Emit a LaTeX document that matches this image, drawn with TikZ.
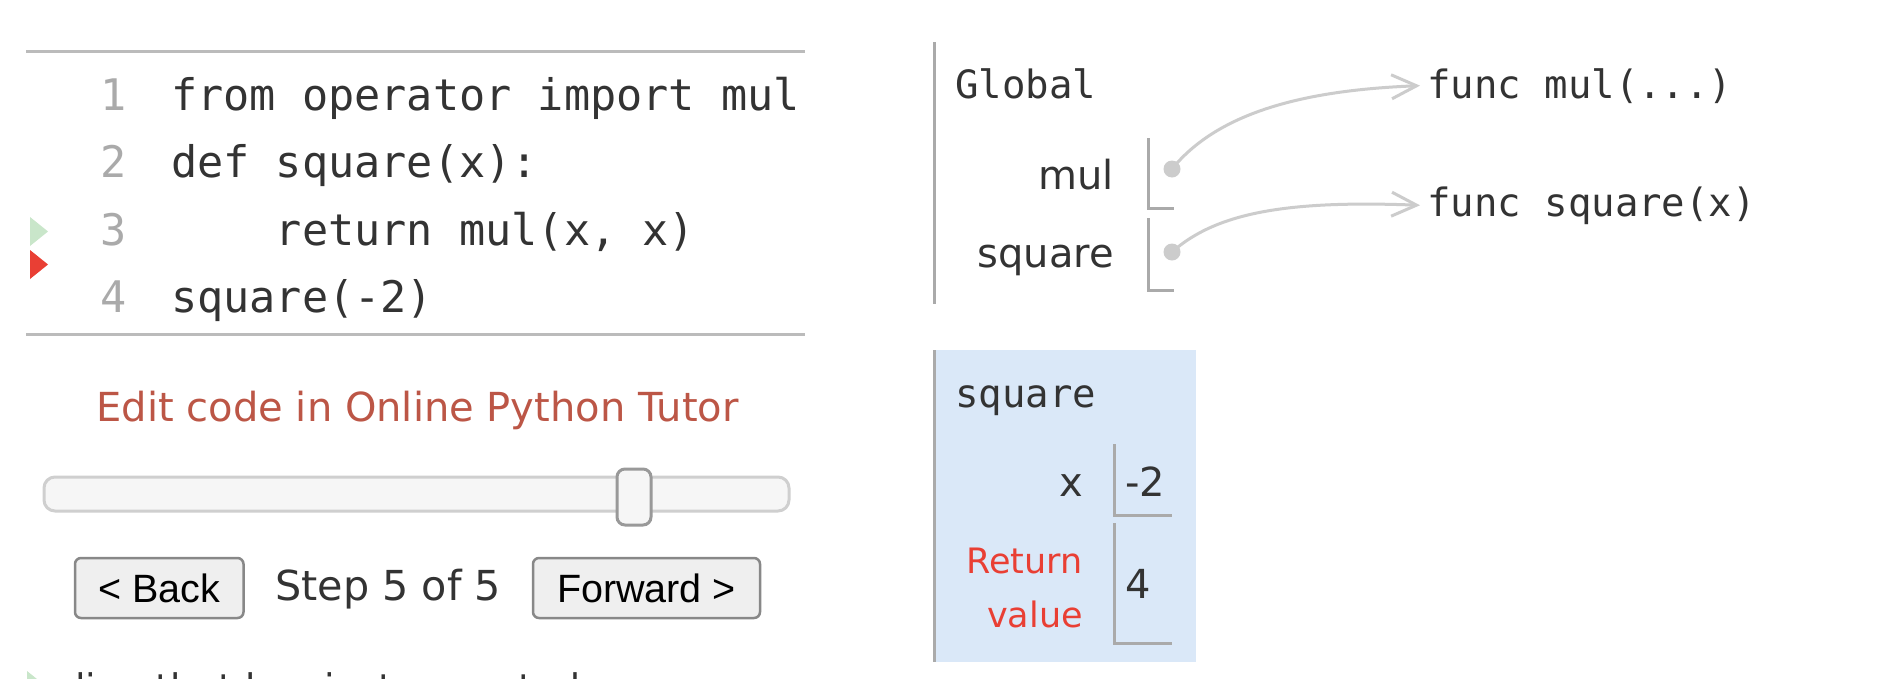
\documentclass[tikz,border=0pt]{standalone}
\usepackage{fontspec}
\setmainfont{DejaVu Sans}
\newfontfamily\codefont{DejaVu Sans Mono}
\newfontfamily\btnfont{Liberation Sans}
\usetikzlibrary{arrows.meta}
\definecolor{txt}{HTML}{333333}
\definecolor{lnum}{HTML}{AAAAAA}
\definecolor{rulegray}{HTML}{BBBBBB}
\definecolor{boxline}{HTML}{AAAAAA}
\definecolor{ptr}{HTML}{CCCCCC}
\definecolor{framebg}{HTML}{DAE8F8}
\definecolor{linkred}{HTML}{BC5646}
\definecolor{retred}{HTML}{E93F34}
\definecolor{curgreen}{HTML}{C9E6CA}
\definecolor{btnfill}{HTML}{EFEFEF}
\definecolor{btnedge}{HTML}{888888}
\definecolor{trackfill}{HTML}{F6F6F6}
\definecolor{trackedge}{HTML}{CFCFCF}
\definecolor{thumbedge}{HTML}{999999}
\tikzset{
  codeline/.style={anchor=base west, inner sep=0pt, font=\codefont\fontsize{43.5}{50}\selectfont, text=txt},
  linenum/.style={anchor=base west, inner sep=0pt, font=\codefont\fontsize{43.5}{50}\selectfont, text=lnum},
  monolabel/.style={anchor=base west, inner sep=0pt, font=\codefont\fontsize{39}{46}\selectfont, text=txt},
  varname/.style={anchor=base east, inner sep=0pt, font=\fontsize{40}{46}\selectfont, text=txt},
  retlabel/.style={anchor=base east, inner sep=0pt, font=\fontsize{35}{42}\selectfont, text=retred},
  valtext/.style={anchor=base west, inner sep=0pt, font=\fontsize{40}{46}\selectfont, text=txt},
  valbox/.style={draw=boxline, line width=3pt},
  ptrdot/.style={circle, fill=ptr, inner sep=0pt, minimum size=17pt},
  ptrarrow/.style={draw=ptr, line width=3pt, -{Straight Barb[length=25pt,width=24pt,line width=3pt]}},
  btnbox/.style={draw=btnedge, fill=btnfill, line width=2.5pt, rounded corners=6pt, inner sep=0pt, font=\btnfont\fontsize{39.5}{46}\selectfont, text=black},
  uitext/.style={inner sep=0pt, font=\fontsize{40}{46}\selectfont},
  coderule/.style={draw=rulegray, line width=3pt},
}
\begin{document}
\begin{tikzpicture}[x=1pt,y=-1pt]
\useasboundingbox (0,0) rectangle (1884,678);
\fill[white] (0,0) rectangle (1884,678);
\clip (0,0) rectangle (1884,678);

% ---- code panel ----
\draw[coderule] (26,51.5) -- (805,51.5);
\draw[coderule] (26,334) -- (805,334);
\node[linenum] (n1) at (100,110) {1};
\node[linenum] (n2) at (100,177.5) {2};
\node[linenum] (n3) at (100,245) {3};
\node[linenum] (n4) at (100,312.5) {4};
\node[codeline] (c1) at (171,110) {from operator import mul};
\node[codeline] (c2) at (171,177.5) {def square(x):};
\node[codeline] (c3) at (171,245) {\hphantom{0000}return mul(x, x)};
\node[codeline] (c4) at (171,312.5) {square(-2)};
\fill[curgreen] (30,217) -- (48,231.5) -- (30,246) -- cycle;
\fill[retred] (30,250) -- (48,264.5) -- (30,279) -- cycle;

% ---- controls ----
\node[uitext, text=linkred, anchor=base] (edit) at (417.5,421) {Edit code in Online Python Tutor};
\draw[draw=trackedge, fill=trackfill, line width=3pt, rounded corners=11pt] (44,477) rectangle (789,511);
\draw[draw=thumbedge, fill=trackfill, line width=3pt, rounded corners=8pt] (617,469) rectangle (651,525);
\node[btnbox, minimum width=168.5pt, minimum height=60pt] (back) at (159.25,588) {< Back};
\node[uitext, text=txt, anchor=base west, font=\fontsize{41.3}{46}\selectfont] (step) at (275,600) {Step 5 of 5};
\node[btnbox, minimum width=227pt, minimum height=60pt] (fwd) at (646.5,588) {Forward >};

% ---- legend (cut off by the picture's edge) ----
\fill[curgreen] (27,671) -- (45,685.5) -- (27,700) -- cycle;
\node[uitext, text=txt, anchor=base west, font=\fontsize{38}{44}\selectfont] (legend) at (75,701) {line that has just executed};

% ---- global frame ----
\draw[boxline, line width=3pt] (934,42) -- (934,304);
\node[monolabel] (glob) at (955,98) {Global};
\node[varname] (vmul) at (1114,189) {mul};
\node[varname] (vsq) at (1114,267) {square};
\draw[valbox] (1148,138) -- (1148,208.5) -- (1174,208.5);
\draw[valbox] (1148,218) -- (1148,290) -- (1174,290);
\node[ptrdot] (dmul) at (1172,169) {};
\node[ptrdot] (dsq) at (1172,252) {};
\node[monolabel] (fmul) at (1427,98) {func mul(...)};
\node[monolabel] (fsq) at (1427,216) {func square(x)};
\draw[ptrarrow] (dmul.center) .. controls +(50,-62) and +(-101,4) .. ([xshift=-7pt]fmul.west);
\draw[ptrarrow] (dsq.center) .. controls +(45,-40) and +(-131,-5) .. ([xshift=-7pt]fsq.west);

% ---- square frame ----
\fill[framebg] (934,350) rectangle (1196,662);
\draw[boxline, line width=3pt] (934,350) -- (934,662);
\node[monolabel] (sqtitle) at (955,407) {square};
\node[varname] (vx) at (1083,496) {x};
\draw[valbox] (1114,444) -- (1114,515) -- (1172,515);
\node[valtext] (valx) at (1125,496) {-2};
\node[retlabel] (ret1) at (1083,573) {Return};
\node[retlabel] (ret2) at (1083,627) {value};
\draw[valbox] (1114,523) -- (1114,643) -- (1172,643);
\node[valtext] (valr) at (1125,598) {4};
\end{tikzpicture}
\end{document}
